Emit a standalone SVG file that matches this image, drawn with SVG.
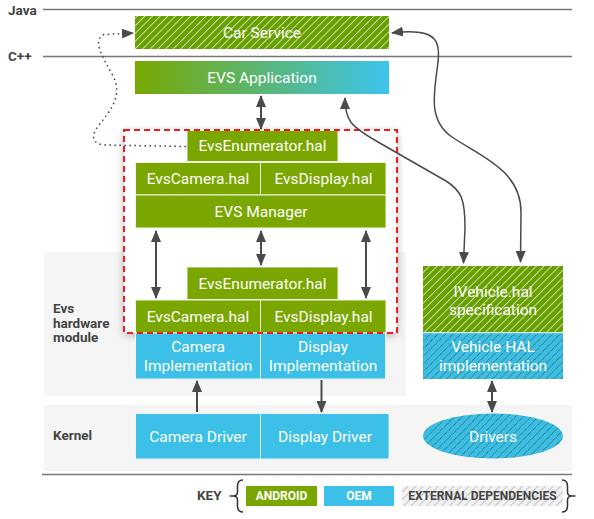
<svg xmlns="http://www.w3.org/2000/svg" width="594" height="519" viewBox="0 0 594 519">
  <defs>
    <style>
      .lbl { font-family: Roboto, "Liberation Sans", sans-serif; font-size: 15.5px; fill: #ffffff; text-anchor: middle; dominant-baseline: central; }
      .side { font-family: Roboto, "Liberation Sans", sans-serif; font-size: 13.5px; font-weight: bold; fill: #444444; }
      .key { font-family: Roboto, "Liberation Sans", sans-serif; font-size: 12px; font-weight: bold; text-anchor: middle; dominant-baseline: central; }
      .android { fill: #7aa600; stroke: #eef4e0; stroke-width: 1; }
      .oem { fill: #3dc0e8; stroke: #e4f5fb; stroke-width: 1; }
      .rule { stroke: #777777; stroke-width: 1.5; fill: none; }
      .arrow { stroke: #4a4a4a; stroke-width: 2; fill: none; marker-end: url(#ah); }
      .darrow { stroke: #4a4a4a; stroke-width: 2; fill: none; marker-start: url(#ah); marker-end: url(#ah); }
      .curve { stroke: #4a4a4a; stroke-width: 1.5; fill: none; }
      .brace { stroke: #333333; stroke-width: 1.5; fill: none; }
    </style>
    <pattern id="hatchGreen" patternUnits="userSpaceOnUse" width="5.4" height="5.4" patternTransform="rotate(45)">
      <rect width="5.4" height="5.4" fill="#679e00"/>
      <line x1="0.5" y1="0" x2="0.5" y2="5.4" stroke="#d4e8b0" stroke-width="0.9"/>
    </pattern>
    <pattern id="hatchBlue" patternUnits="userSpaceOnUse" width="5.4" height="5.4" patternTransform="rotate(45)">
      <rect width="5.4" height="5.4" fill="#3bbde8"/>
      <line x1="0.5" y1="0" x2="0.5" y2="5.4" stroke="#2e6a3a" stroke-width="0.9" stroke-dasharray="1 0.8"/>
    </pattern>
    <pattern id="hatchGray" patternUnits="userSpaceOnUse" width="5.4" height="5.4" patternTransform="rotate(45)">
      <rect width="5.4" height="5.4" fill="#f2f2f2"/>
      <line x1="0.5" y1="0" x2="0.5" y2="5.4" stroke="#b8b8b8" stroke-width="0.8"/>
    </pattern>
    <linearGradient id="evsGrad" x1="0" y1="0" x2="1" y2="0">
      <stop offset="0" stop-color="#78a800"/>
      <stop offset="1" stop-color="#3dc4ec"/>
    </linearGradient>
    <filter id="shadow" x="-10%" y="-10%" width="120%" height="120%">
      <feGaussianBlur in="SourceAlpha" stdDeviation="4"/>
      <feOffset dx="0" dy="2" result="b"/>
      <feComponentTransfer><feFuncA type="linear" slope="0.3"/></feComponentTransfer>
      <feMerge><feMergeNode/><feMergeNode in="SourceGraphic"/></feMerge>
    </filter>
    <marker id="ah" viewBox="0 0 12 10" refX="11" refY="5" markerWidth="12" markerHeight="10" markerUnits="userSpaceOnUse" orient="auto-start-reverse">
      <path d="M0,0 L12,5 L0,10 z" fill="#4a4a4a"/>
    </marker>
  </defs>

  <rect width="594" height="519" fill="#ffffff"/>

  <!-- layer backgrounds -->
  <g id="layers">
    <rect x="44" y="252" width="362" height="144" fill="#f5f5f5"/>
    <rect x="44" y="405" width="528" height="66" fill="#f5f5f5"/>
    <line class="rule" x1="43" y1="9.5" x2="572" y2="9.5"/>
    <line class="rule" x1="43" y1="56.5" x2="572" y2="56.5"/>
    <line class="rule" x1="42" y1="474.5" x2="572" y2="474.5"/>
    <text class="side" x="8" y="14.5">Java</text>
    <text class="side" x="8" y="61">C++</text>
    <text class="side" x="53" y="313">Evs</text>
    <text class="side" x="53" y="327.5">hardware</text>
    <text class="side" x="53" y="342">module</text>
    <text class="side" x="53" y="440">Kernel</text>
  </g>

  <!-- EVS boundary -->
  <g id="evs-boundary">
    <rect x="124" y="130" width="273" height="203" fill="#ffffff" filter="url(#shadow)"/>
  </g>

  <g id="car-service">
    <rect x="135" y="16" width="254" height="33" fill="url(#hatchGreen)"/>
    <text class="lbl" x="262" y="32.5">Car Service</text>
  </g>
  <g id="evs-application">
    <rect x="135" y="61" width="254" height="33" fill="url(#evsGrad)"/>
    <text class="lbl" x="262" y="77.5">EVS Application</text>
  </g>
  <g id="evs-enumerator-top">
    <rect class="android" x="187" y="130.5" width="151" height="31"/>
    <text class="lbl" x="262.5" y="146">EvsEnumerator.hal</text>
  </g>
  <g id="evs-camera-top">
    <rect class="android" x="135.5" y="162.5" width="125" height="32.5"/>
    <text class="lbl" x="198" y="178.5">EvsCamera.hal</text>
  </g>
  <g id="evs-display-top">
    <rect class="android" x="260.5" y="162.5" width="125.5" height="32.5"/>
    <text class="lbl" x="323.5" y="178.5">EvsDisplay.hal</text>
  </g>
  <g id="evs-manager">
    <rect class="android" x="135.5" y="195" width="250.5" height="33"/>
    <text class="lbl" x="261" y="212">EVS Manager</text>
  </g>
  <g id="evs-enumerator-hw">
    <rect class="android" x="187" y="267" width="151" height="32.5"/>
    <text class="lbl" x="262.5" y="283.5">EvsEnumerator.hal</text>
  </g>
  <g id="evs-camera-hw">
    <rect class="android" x="135.5" y="300" width="125" height="33"/>
    <text class="lbl" x="198" y="316.5">EvsCamera.hal</text>
  </g>
  <g id="evs-display-hw">
    <rect class="android" x="260.5" y="300" width="125.5" height="33"/>
    <text class="lbl" x="323.5" y="316.5">EvsDisplay.hal</text>
  </g>
  <g id="camera-impl">
    <rect class="oem" x="135.5" y="333" width="125" height="46"/>
    <text class="lbl" x="198" y="347">Camera</text>
    <text class="lbl" x="198" y="366">Implementation</text>
  </g>
  <g id="display-impl">
    <rect class="oem" x="260.5" y="333" width="125" height="46"/>
    <text class="lbl" x="323" y="347">Display</text>
    <text class="lbl" x="323" y="366">Implementation</text>
  </g>
  <g id="camera-driver">
    <rect class="oem" x="135.5" y="413.5" width="125" height="45.5"/>
    <text class="lbl" x="198" y="437">Camera Driver</text>
  </g>
  <g id="display-driver">
    <rect class="oem" x="260.5" y="413.5" width="128.5" height="45.5"/>
    <text class="lbl" x="325" y="437">Display Driver</text>
  </g>
  <g id="ivehicle-hal">
    <rect x="423" y="266" width="140" height="66.5" fill="url(#hatchGreen)"/>
    <text class="lbl" x="493" y="292">IVehicle.hal</text>
    <text class="lbl" x="493" y="310">specification</text>
  </g>
  <g id="vehicle-hal-impl">
    <rect x="423" y="333" width="140" height="46" fill="url(#hatchBlue)"/>
    <line x1="423" y1="332.75" x2="563" y2="332.75" stroke="#e8f4fa" stroke-width="1"/>
    <text class="lbl" x="493" y="347">Vehicle HAL</text>
    <text class="lbl" x="493" y="366">implementation</text>
  </g>
  <g id="drivers">
    <ellipse cx="493" cy="436" rx="70" ry="22.5" fill="url(#hatchBlue)"/>
    <text class="lbl" x="493" y="437">Drivers</text>
  </g>

  <!-- red dashed boundary stroke on top -->
  <g id="evs-boundary-outline">
    <rect x="124" y="130" width="273" height="203" fill="none" stroke="#ee1c1c" stroke-width="2" stroke-dasharray="6 4"/>
  </g>

  <!-- connectors -->
  <g id="connectors">
    <line class="darrow" x1="261" y1="96" x2="261" y2="129"/>
    <line class="darrow" x1="156" y1="231" x2="156" y2="298"/>
    <line class="darrow" x1="261" y1="231" x2="261" y2="265"/>
    <line class="darrow" x1="366" y1="231" x2="366" y2="298"/>
    <line class="arrow" x1="197" y1="412" x2="197" y2="381"/>
    <line class="arrow" x1="321.5" y1="380" x2="321.5" y2="412"/>
    <line class="darrow" x1="492" y1="381" x2="492" y2="412"/>
    <path class="curve" d="M 392,33 C 440,27 441,42 437,70 C 433,98 430,122 452,137 C 480,156 521,170 521,212 L 520.5,262" marker-start="url(#ah)" marker-end="url(#ah)"/>
    <path class="curve" d="M 345,98 C 345,120 350,126 378,142 L 446,181 C 462,191 465,200 465,228 L 463.5,263" marker-start="url(#ah)" marker-end="url(#ah)"/>
    <path class="curve" d="M 186,146.5 L 105,145 C 91,144 91,135 99,125 C 111,110 123,95 113,76 C 102,56 92,40 104,34.5 L 133,33" stroke-width="1.5" stroke-dasharray="1.6 3.4" marker-end="url(#ah)"/>
  </g>

  <!-- key -->
  <g id="key">
    <text class="side" x="197" y="500">KEY</text>
    <path class="brace" d="M 243,480 Q 237.5,480 237.5,486 L 237.5,492 Q 237.5,496 233,496 Q 237.5,496 237.5,500 L 237.5,506 Q 237.5,512 243,512 M 229.5,496 L 233,496"/>
    <path class="brace" d="M 562,480 Q 567.5,480 567.5,486 L 567.5,492 Q 567.5,496 572,496 Q 567.5,496 567.5,500 L 567.5,506 Q 567.5,512 562,512 M 572,496 L 575.5,496"/>
    <rect x="246" y="486" width="71" height="20" fill="#7aa600"/>
    <text class="key" x="281.5" y="496" fill="#ffffff">ANDROID</text>
    <rect x="324" y="486" width="70" height="20" fill="#3dc0e8"/>
    <text class="key" x="359" y="496" fill="#ffffff">OEM</text>
    <rect x="402" y="486" width="161" height="20" fill="url(#hatchGray)"/>
    <text class="key" x="482.5" y="496" fill="#444444">EXTERNAL DEPENDENCIES</text>
  </g>
</svg>
